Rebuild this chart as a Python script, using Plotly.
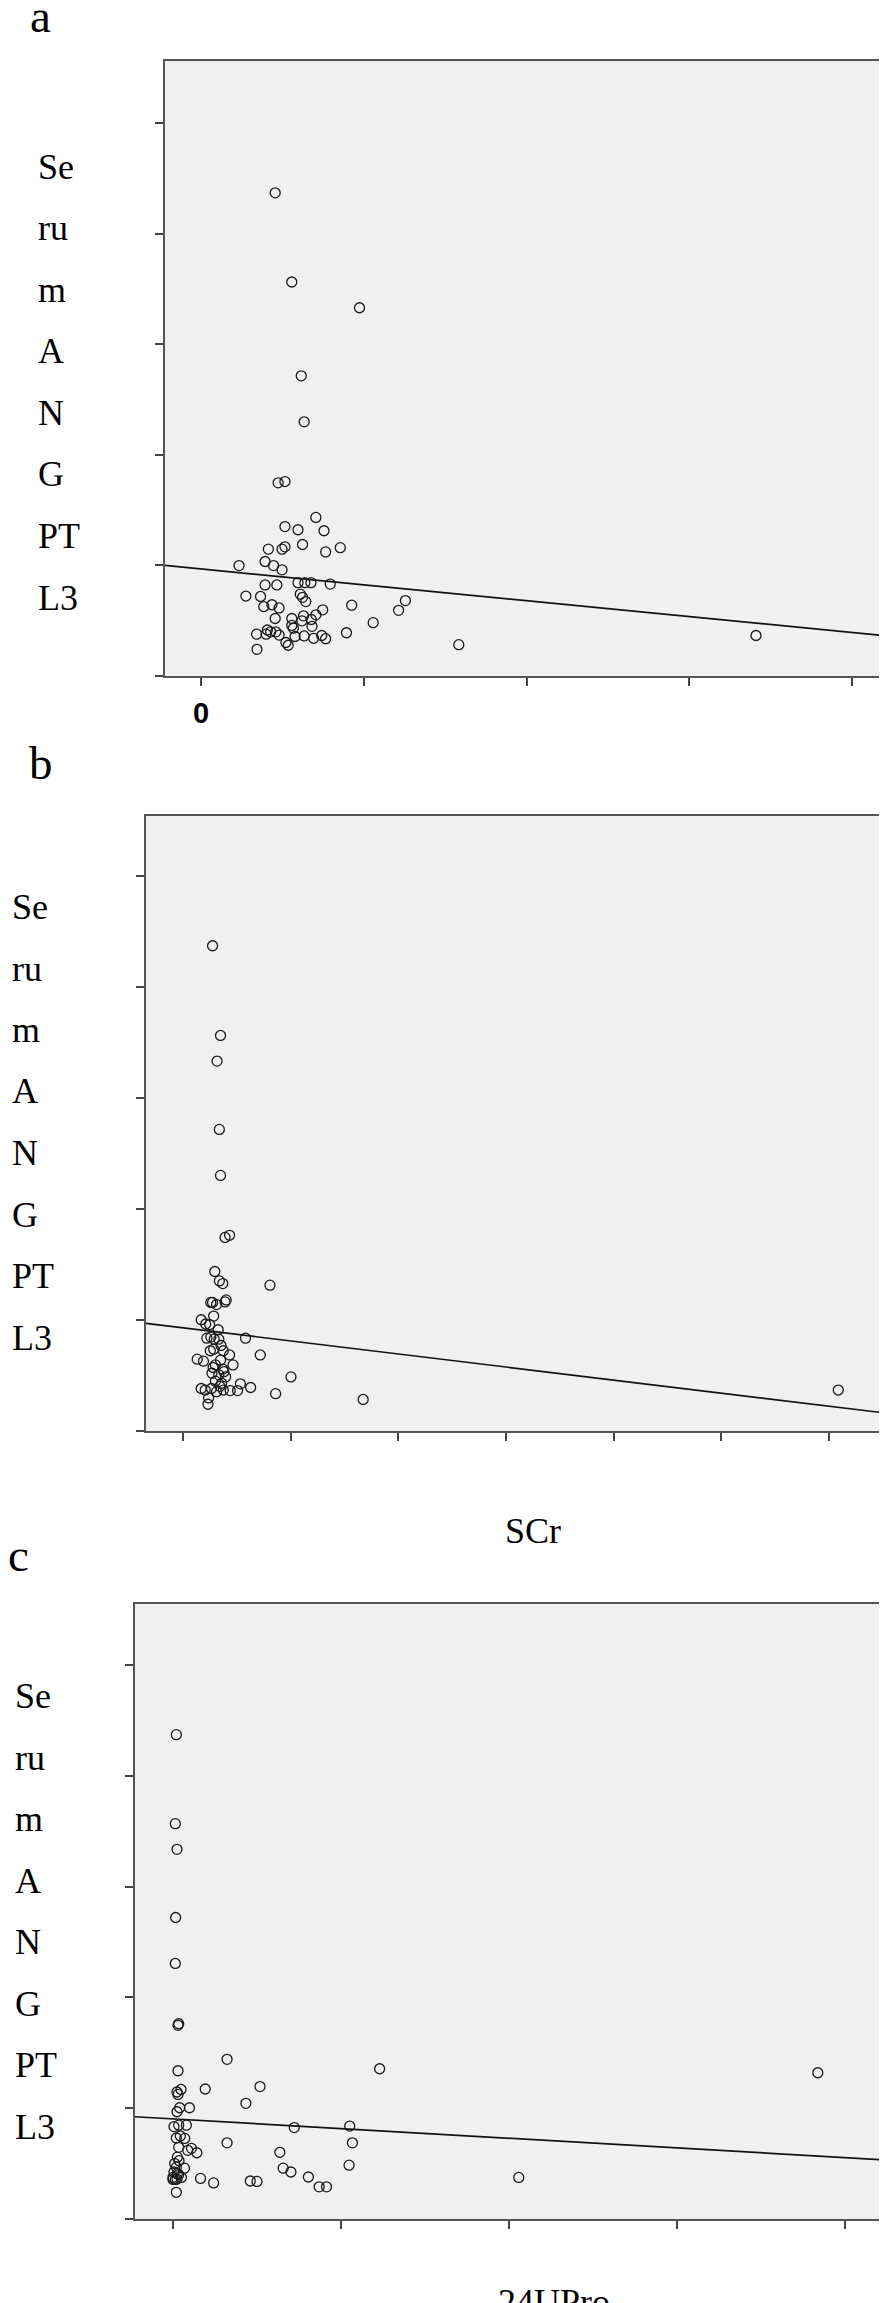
import numpy as np
import plotly.graph_objects as go

# ---- data ----
# panel a: x variable (label not shown), y = serum ANGPTL3
a_x = [22.8, 27.9, 48.7, 30.8, 31.7, 23.7, 25.8, 35.3, 25.8, 29.8, 37.8, 20.7, 24.9, 25.8,
       31.2, 38.3, 42.8, 11.7, 19.7, 22.3, 24.9, 19.7, 23.3, 29.8, 31.9, 33.8, 39.7, 13.8,
       18.3, 30.5, 31.2, 32.2, 19.3, 21.8, 24.0, 46.3, 62.8, 60.7, 37.4, 35.3, 22.8, 27.9,
       31.5, 33.9, 31.0, 27.9, 28.4, 34.1, 52.9, 20.4, 21.4, 23.0, 17.1, 20.0, 24.0, 28.9,
       31.7, 34.6, 37.1, 38.3, 44.7, 26.1, 26.8, 17.2, 79.2, 170.5]
a_y = [436.8, 356.2, 332.9, 271.4, 229.8, 174.6, 175.8, 143.4, 135.1, 132.2, 131.3, 114.7,
       114.7, 116.8, 118.9, 112.2, 116.0, 99.8, 103.5, 99.8, 96.0, 82.3, 82.3, 84.4, 84.4,
       84.4, 83.1, 72.3, 71.9, 74.0, 71.1, 67.3, 62.8, 64.4, 61.5, 64.0, 68.2, 59.4, 59.8,
       55.3, 52.0, 52.0, 54.4, 51.1, 49.9, 45.7, 43.2, 44.9, 48.2, 41.6, 39.9, 39.9, 37.8,
       37.8, 37.0, 35.7, 36.2, 34.1, 36.6, 33.7, 39.1, 30.3, 27.8, 24.1, 28.3, 36.6]

# panel b: SCr vs serum ANGPTL3
b_x = [54.9, 69.7, 63.3, 67.5, 69.7, 78.1, 86.5, 59.1, 67.5, 73.9, 161.5, 51.7, 54.9, 80.2,
       78.1, 62.3, 33.8, 42.2, 57.0, 116.1, 44.3, 51.7, 58.0, 66.5, 143.5, 50.7, 57.0, 74.9,
       86.5, 26.4, 38.0, 69.7, 92.9, 60.2, 73.9, 53.8, 66.5, 76.0, 200.5, 60.2, 71.8, 106.6,
       125.6, 33.8, 41.2, 52.8, 62.3, 74.9, 87.6, 101.3, 172.0, 47.5, 46.4, 334.6, 1216.9,
       65.4, 49.6, 70.7, 55.9, 79.2, 68.6]
b_y = [437.1, 356.3, 333.2, 271.7, 230.2, 174.4, 176.3, 143.7, 135.2, 132.8, 131.4, 115.8,
       115.8, 118.1, 116.3, 113.9, 100.2, 96.4, 103.5, 83.6, 83.6, 84.6, 82.7, 82.7, 68.5,
       72.3, 73.7, 72.3, 68.5, 64.7, 62.9, 63.8, 59.5, 59.5, 55.8, 52.0, 50.6, 53.4, 48.7,
       44.9, 43.0, 42.5, 39.2, 38.3, 36.9, 38.3, 35.4, 36.9, 36.4, 36.4, 33.6, 29.8, 24.1,
       28.4, 36.9, 91.2, 95.9, 77.0, 57.2, 48.7, 40.2]

# panel c: 24UPro vs serum ANGPTL3
c_x = [0.10, 0.07, 0.12, 0.08, 0.07, 0.17, 0.15, 1.61, 6.15, 19.19, 0.15, 0.96, 2.59, 0.24,
       0.12, 0.15, 2.17, 0.49, 0.20, 0.12, 0.03, 0.17, 0.40, 3.61, 5.26, 0.10, 0.22, 0.35,
       1.61, 5.34, 0.17, 0.44, 0.55, 0.71, 3.18, 0.13, 0.18, 0.05, 0.10, 0.34, 5.24, 3.28,
       3.51, 0.03, 0.17, 0.00, 0.12, 0.25, 0.00, 0.82, 1.21, 2.30, 2.50, 4.03, 4.35, 4.57,
       10.29, 0.10, 0.07, 0.13]
c_y = [437.1, 356.8, 333.6, 272.1, 230.6, 176.2, 174.8, 144.1, 135.6, 132.0, 133.8, 117.3,
       119.5, 116.9, 114.6, 112.4, 104.4, 100.4, 100.4, 96.8, 83.4, 84.7, 84.7, 82.5, 83.9,
       73.1, 74.9, 72.7, 68.7, 68.7, 64.7, 62.0, 63.8, 59.8, 60.2, 55.8, 52.6, 50.0, 46.8,
       45.9, 48.6, 45.9, 42.4, 42.4, 40.1, 37.5, 36.1, 37.5, 35.7, 36.6, 32.6, 34.3, 33.9,
       37.9, 29.0, 29.0, 37.5, 24.1, 35.7, 40.9]

# fitted regression lines (intercept, slope)
fit_a = (96.8, -0.287)
fit_b = (92.9, -0.0588)
fit_c = (90.3, -1.745)

y_ticks = [0, 100, 200, 300, 400, 500]
a_xticks = [0, 50, 100, 150, 200]
a_xticktext = ["<b>0</b>", "", "", "", ""]
b_xticks = [0, 200, 400, 600, 800, 1000, 1200]
c_xticks = [0, 5, 10, 15, 20]

panel_letters = ["a", "b", "c"]
y_label_parts = ["Se", "ru", "m", "A", "N", "G", "PT", "L3"]
x_titles = [None, "SCr", "24UPro"]

# ---- layout (pixels of the 887 x 2303 page) ----
W, H = 887, 2303
SERIF = "Liberation Serif, Times New Roman, serif"

panels = [
    dict(x=a_x, y=a_y, fit=fit_a, xt=a_xticks, xtt=a_xticktext,
         xr=[-11.05, 211.05], yr=[0, 556], box=(157, 53, 880, 668),
         letter=(32, 8), ylab=(28, 159), xtitle_y=None, xtitle_x=None),
    dict(x=b_x, y=b_y, fit=fit_b, xt=b_xticks, xtt=[""] * len(b_xticks),
         xr=[-68.7, 1318.5], yr=[0, 554], box=(138, 808, 885, 1423),
         letter=(33, 755), ylab=(2, 899), xtitle_y=1523, xtitle_x=525),
    dict(x=c_x, y=c_y, fit=fit_c, xt=c_xticks, xtt=[""] * len(c_xticks),
         xr=[-1.13, 21.10], yr=[0, 555], box=(127, 1596, 874, 2211),
         letter=(10, 1547), ylab=(5, 1688), xtitle_y=2294, xtitle_x=546),
]

fig = go.Figure()
annotations = []
line_gap = 61.5

for i, p in enumerate(panels):
    n = "" if i == 0 else str(i + 1)
    x0, y0, x1, y1 = p["box"]

    fig.add_scatter(
        x=p["x"], y=p["y"], mode="markers", xaxis="x" + n, yaxis="y" + n,
        marker=dict(symbol="circle-open", size=10, color="#1a1a1a", line=dict(width=1.3)),
        showlegend=False,
    )
    lx = np.array(p["xr"])
    b0, b1 = p["fit"]
    fig.add_scatter(
        x=lx, y=b0 + b1 * lx, mode="lines", xaxis="x" + n, yaxis="y" + n,
        line=dict(color="#111111", width=1.7), showlegend=False,
    )

    axis_common = dict(
        showline=True, linecolor="#555555", linewidth=2, mirror=True,
        ticks="outside", ticklen=8, tickwidth=2, tickcolor="#444444",
        showgrid=False, zeroline=False,
    )
    fig.update_layout({
        "xaxis" + n: dict(
            domain=[x0 / W, x1 / W], range=p["xr"], anchor="y" + n,
            tickvals=p["xt"], ticktext=p["xtt"], ticklabelstandoff=2,
            tickfont=dict(family="Liberation Sans, Arial, sans-serif", size=29, color="#000"),
            **axis_common),
        "yaxis" + n: dict(
            domain=[1 - y1 / H, 1 - y0 / H], range=p["yr"], anchor="x" + n,
            tickvals=y_ticks, showticklabels=False, **axis_common),
    })

    lx_, ly_ = p["letter"]
    annotations.append(dict(
        text=panel_letters[i], xref="paper", yref="paper", x=lx_ / W, y=1 - ly_ / H,
        xanchor="center", yanchor="middle", showarrow=False,
        font=dict(family=SERIF, size=47, color="#000")))

    yl_x, yl_y = p["ylab"]
    for k, part in enumerate(y_label_parts):
        annotations.append(dict(
            text=part, xref="paper", yref="paper", x=yl_x / W,
            y=1 - (yl_y + k * line_gap) / H,
            xanchor="left", yanchor="middle", showarrow=False,
            font=dict(family=SERIF, size=36, color="#000")))

    if x_titles[i]:
        annotations.append(dict(
            text=x_titles[i], xref="paper", yref="paper",
            x=p["xtitle_x"] / W, y=1 - p["xtitle_y"] / H,
            xanchor="center", yanchor="middle", showarrow=False,
            font=dict(family=SERIF, size=36, color="#000")))

fig.update_layout(
    width=W, height=H,
    margin=dict(l=0, r=0, t=0, b=0),
    paper_bgcolor="white", plot_bgcolor="#f0f0f0",
    annotations=annotations,
)

fig.write_html("out.html")
